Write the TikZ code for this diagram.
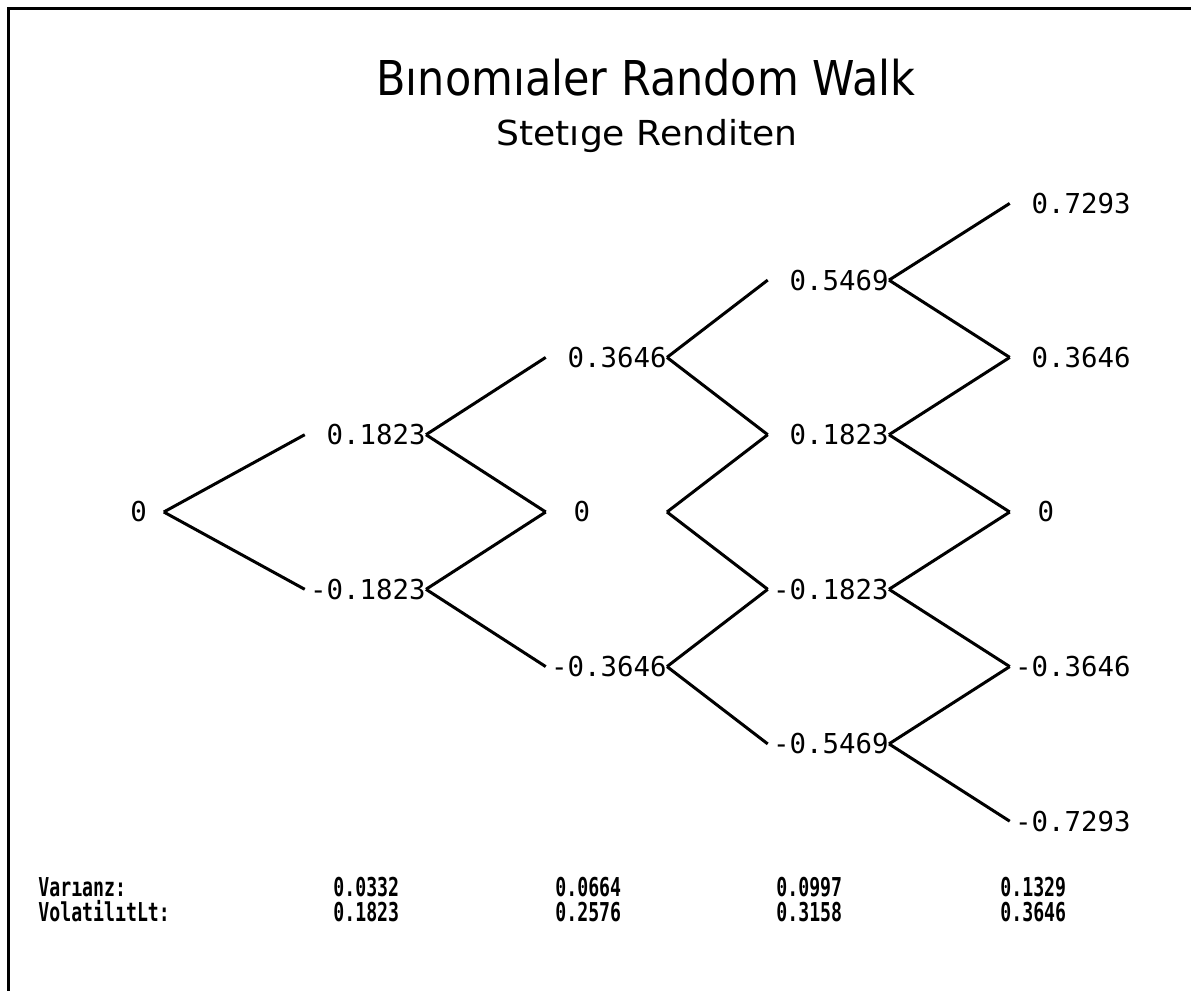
\documentclass[tikz,border=0pt]{standalone}
\usepackage{fontspec}
\setmainfont{DejaVu Sans}
\newfontfamily\numfont{DejaVu Sans Mono}
\newfontfamily\ttlfont{DejaVu Sans}
\begin{document}
\begin{tikzpicture}[x=0.5pt,y=-0.5pt,
  num/.style={font=\numfont\fontsize{13.7pt}{16pt}\selectfont, inner sep=0pt, anchor=east},
  edge/.style={line width=1.5pt, line join=miter},
  foot/.style={inner sep=0pt, anchor=base west},
  frame/.style={line width=1.5pt}]
\useasboundingbox (0,0) rectangle (1191,991);
% frame
\coordinate (fb) at (8.5,991);
\coordinate (fc) at (8.5,8.5);
\coordinate (fr) at (1191,8.5);
\draw[frame] (fb) -- (fc) -- (fr);
% titles
\node[inner sep=0pt, anchor=base] (title) at (646,95)
  {\scalebox{0.895}[1]{\ttlfont\fontsize{24pt}{28pt}\selectfont Bınomıaler Random Walk}};
\node[inner sep=0pt, anchor=base] (sub) at (647,145)
  {\scalebox{1.05}[1]{\ttlfont\fontsize{17.2pt}{20pt}\selectfont Stetıge Renditen}};
% tree nodes
\node[num, anchor=west] (n0) at (130,512) {0\phantom{0}};
\node[num] (n1p1) at (426,434.7) {\phantom{-}0.1823};
\node[num] (n1m1) at (426,589.3) {-0.1823};
\node[num] (n2p2) at (667,357.4) {\phantom{-}0.3646};
\node[num] (n2z)  at (667,512)   {\phantom{-}\rlap{\kern3pt 0}\phantom{0.3646}};
\node[num] (n2m2) at (667,666.6) {-0.3646};
\node[num] (n3p3) at (889,280.1) {\phantom{-}0.5469};
\node[num] (n3p1) at (889,434.7) {\phantom{-}0.1823};
\node[num] (n3m1) at (889,589.3) {-0.1823};
\node[num] (n3m3) at (889,743.9) {-0.5469};
\node[num] (n4p4) at (1131,203.4) {\phantom{-}0.7293};
\node[num] (n4p2) at (1131,357.4) {\phantom{-}0.3646};
\node[num] (n4z)  at (1131,512)   {\phantom{-}\rlap{\kern3pt 0}\phantom{0.3646}};
\node[num] (n4m2) at (1131,666.6) {-0.3646};
\node[num] (n4m4) at (1131,821.2) {-0.7293};
% edges
\foreach \p/\c in {n0/n1p1,n0/n1m1,
  n1p1/n2p2,n1p1/n2z,n1m1/n2z,n1m1/n2m2,
  n2p2/n3p3,n2p2/n3p1,n2z/n3p1,n2z/n3m1,n2m2/n3m1,n2m2/n3m3,
  n3p3/n4p4,n3p3/n4p2,n3p1/n4p2,n3p1/n4z,n3m1/n4z,n3m1/n4m2,n3m3/n4m2,n3m3/n4m4}
  \draw[edge] (\p.east) -- ([xshift=-2.5pt]\c.west);
% footer
\newcommand{\ft}[1]{\scalebox{0.70}[1]{\numfont\bfseries\fontsize{13pt}{15pt}\selectfont #1}}
\node[foot] (var) at (38,896) {\ft{Varıanz:}};
\node[foot] (vol) at (38,921) {\ft{VolatilıtLt:}};
\node[foot] (v1) at (333,896) {\ft{0.0332}};
\node[foot] (v2) at (555,896) {\ft{0.0664}};
\node[foot] (v3) at (776,896) {\ft{0.0997}};
\node[foot] (v4) at (1000,896) {\ft{0.1329}};
\node[foot] (s1) at (333,921) {\ft{0.1823}};
\node[foot] (s2) at (555,921) {\ft{0.2576}};
\node[foot] (s3) at (776,921) {\ft{0.3158}};
\node[foot] (s4) at (1000,921) {\ft{0.3646}};
\end{tikzpicture}
\end{document}
